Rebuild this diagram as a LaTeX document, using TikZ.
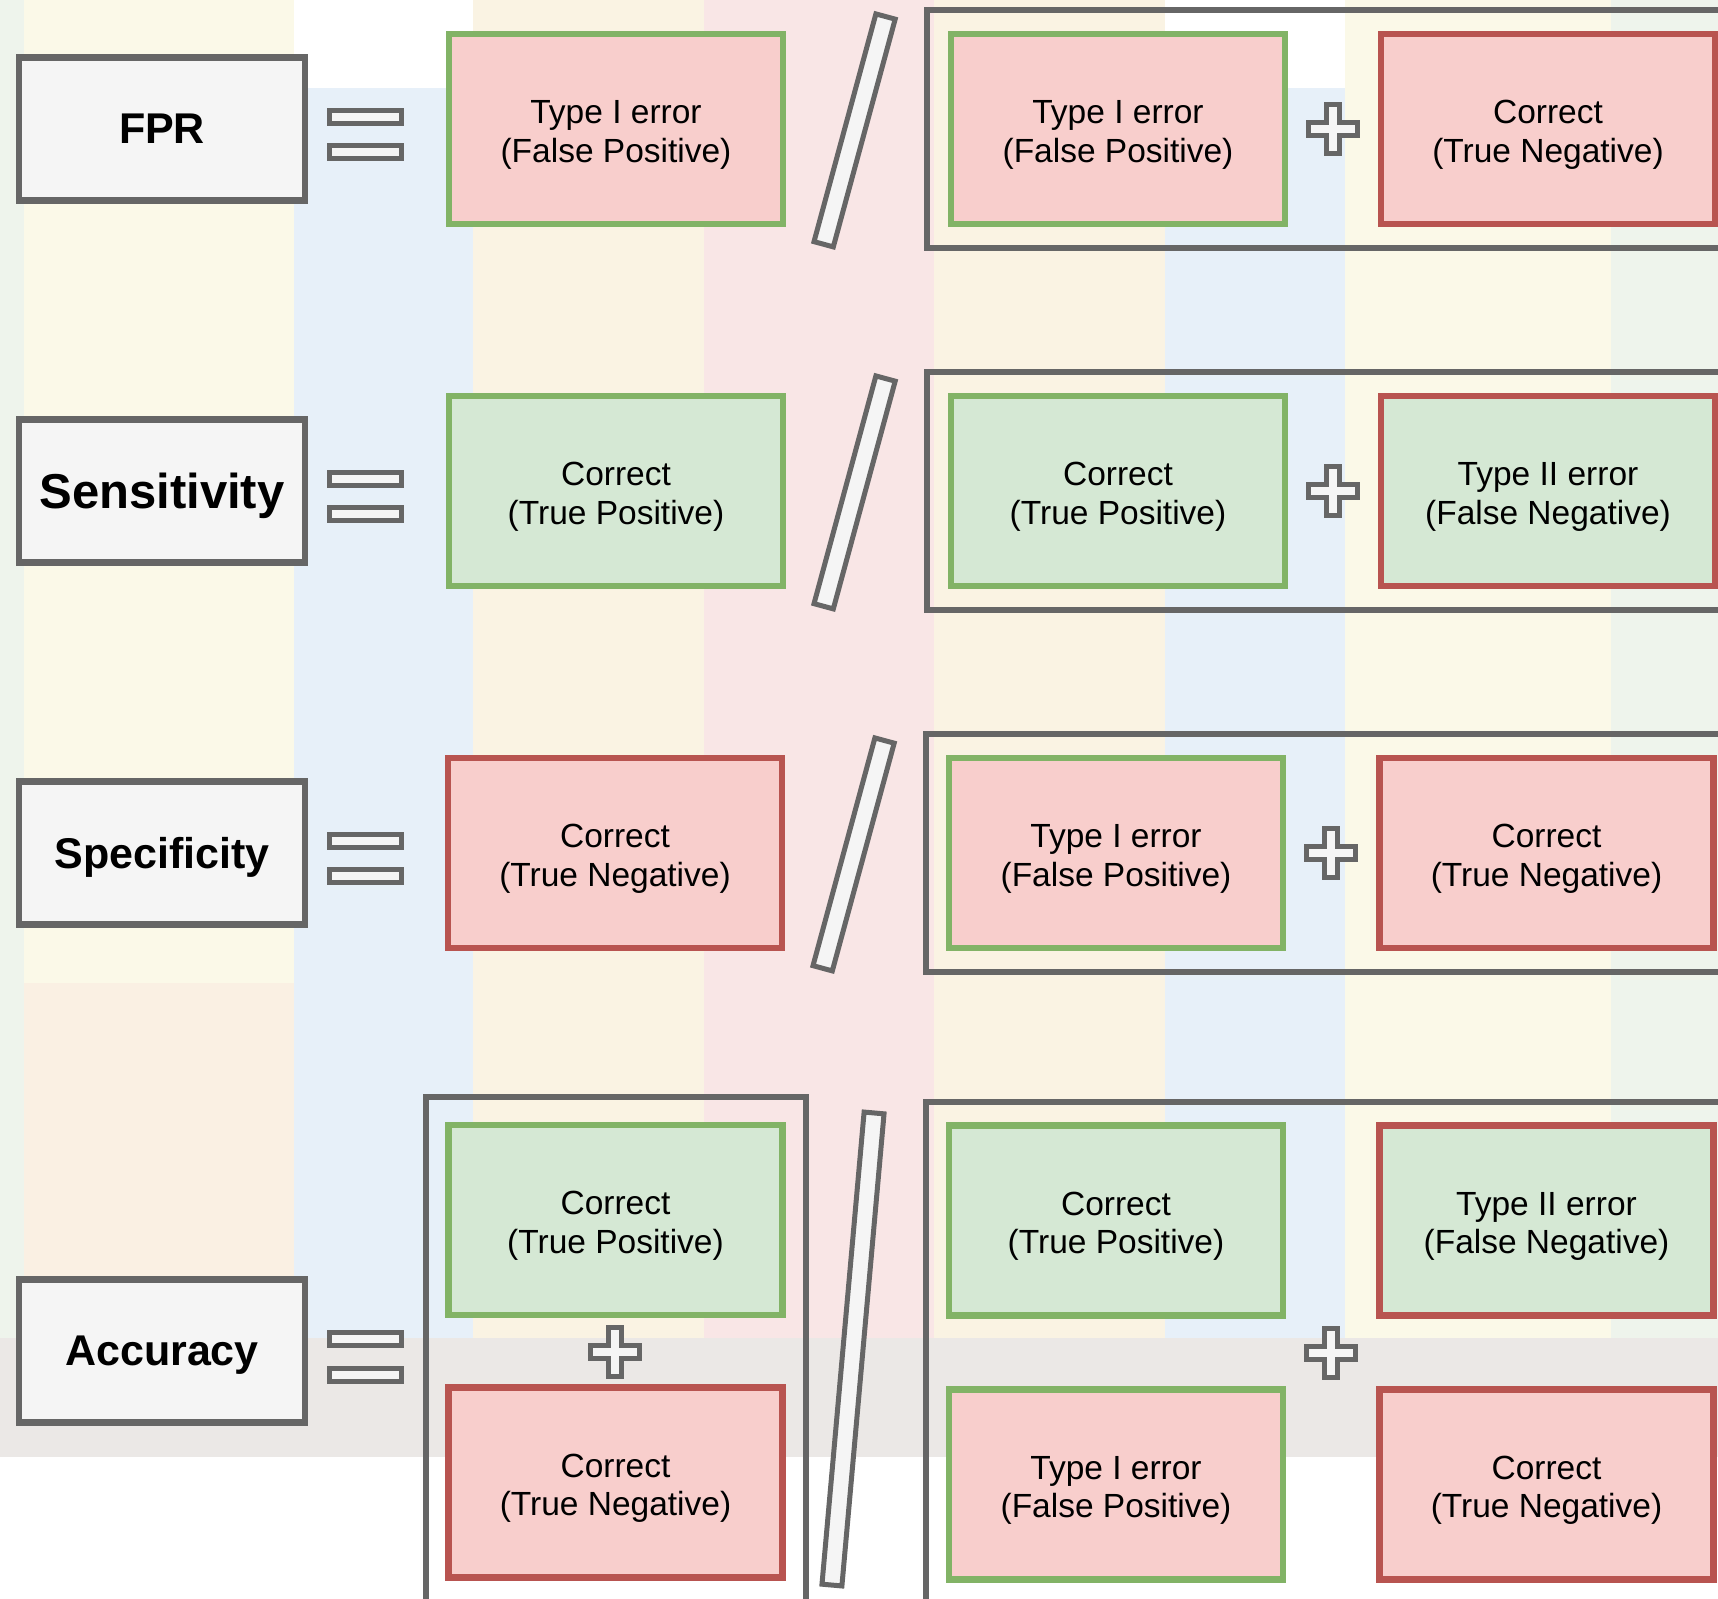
\documentclass[tikz,border=0pt]{standalone}
\usepackage{fontspec}
\setmainfont{Liberation Sans}
\definecolor{grayline}{HTML}{666666}
\definecolor{grayfill}{HTML}{F5F5F5}
\definecolor{greenline}{HTML}{82B366}
\definecolor{greenfill}{HTML}{D5E8D4}
\definecolor{redline}{HTML}{B85450}
\definecolor{redfill}{HTML}{F8CECC}
\definecolor{bggreen}{HTML}{EEF4EC}
\definecolor{bgyellow}{HTML}{FBF9E8}
\definecolor{bgblue}{HTML}{E7F0F9}
\definecolor{bgcream}{HTML}{FAF3E3}
\definecolor{bgpink}{HTML}{F9E6E6}
\definecolor{bgpeach}{HTML}{FAF0E3}
\definecolor{bggray}{HTML}{EBE8E6}
\newcommand{\plussign}[1]{\draw[plusline, shift={#1}] (-24.5,-6.5) -- (-6.5,-6.5) -- (-6.5,-24.5) -- (6.5,-24.5) -- (6.5,-6.5) -- (24.5,-6.5)
    -- (24.5,6.5) -- (6.5,6.5) -- (6.5,24.5) -- (-6.5,24.5) -- (-6.5,6.5) -- (-24.5,6.5) -- cycle;}
\begin{document}
\begin{tikzpicture}[x=1pt,y=-1pt]
    \tikzset{cell/.style={line width=6.5pt, minimum width=334pt, minimum height=190pt, inner sep=0pt, align=center,
            font=\fontsize{33.5}{38.4}\selectfont, text height=73.5pt},
        tp/.style={cell, draw=greenline, fill=greenfill},
        fp/.style={cell, draw=greenline, fill=redfill},
        tn/.style={cell, draw=redline, fill=redfill},
        fn/.style={cell, draw=redline, fill=greenfill},
        lbl/.style={draw=grayline, fill=grayfill, line width=6.5pt, minimum width=286pt, minimum height=143pt, inner sep=0pt,
            text depth=0pt},
        lblfont/.style={font=\bfseries\fontsize{#1}{#1}\selectfont},
        lblfont/.default={43},
        eqbar/.style={draw=grayline, fill=grayfill, line width=5pt, minimum width=72pt, minimum height=13pt, inner sep=0pt},
        slashbar/.style={draw=grayline, fill=grayfill, line width=5pt, minimum width=20pt, inner sep=0pt},
        grp/.style={draw=grayline, line width=6pt},
        plusline/.style={draw=grayline, fill=grayfill, line width=5pt}}
    \useasboundingbox (0,0) rectangle (1718,1598);
    \clip (0,0) rectangle (1718,1598);

    %Hintergrund
    \fill[white] (0,0) rectangle (1718,1598);
    \fill[bggreen] (0,0) rectangle (24,1338);
    \fill[bgyellow] (24,0) rectangle (294,1338);
    \fill[bgblue] (294,88) rectangle (473,1338);
    \fill[bgcream] (473,0) rectangle (704,1338);
    \fill[bgpink] (704,0) rectangle (934,1338);
    \fill[bgcream] (934,0) rectangle (1165,1338);
    \fill[bgblue] (1165,88) rectangle (1345,1338);
    \fill[bgyellow] (1345,0) rectangle (1611,1338);
    \fill[bggreen] (1611,0) rectangle (1718,1338);
    \fill[bgpeach] (24,983) rectangle (294,1338);
    \fill[bggray] (0,1338) rectangle (1718,1457);

    %FPR
    \node[lbl, lblfont] (fpr) at (162,129) {FPR};
    \node[eqbar] (fprEq1) at (365,116.5) {};
    \node[eqbar] (fprEq2) at (365,152) {};
    \node[fp] (fprNum) at (616,129) {Type I error\\(False Positive)};
    \node[slashbar, minimum height=236pt, rotate=-15.2] (fprSl) at (854.6,130.4) {};
    \draw[grp] (927,9.5) rectangle (1760,248);
    \node[fp] (fprDen1) at (1118,129) {Type I error\\(False Positive)};
    \coordinate (fprPlus) at (1333,129);
    \plussign{(fprPlus)}
    \node[tn] (fprDen2) at (1548,129) {Correct\\(True Negative)};

    %Sensitivity
    \node[lbl, lblfont=49] (sens) at (162,491) {Sensitivity};
    \node[eqbar] (sensEq1) at (365,478.5) {};
    \node[eqbar] (sensEq2) at (365,514) {};
    \node[tp] (sensNum) at (616,491) {Correct\\(True Positive)};
    \node[slashbar, minimum height=236pt, rotate=-15.2] (sensSl) at (854.6,492.4) {};
    \draw[grp] (927,371.5) rectangle (1760,610);
    \node[tp] (sensDen1) at (1118,491) {Correct\\(True Positive)};
    \coordinate (sensPlus) at (1333,491);
    \plussign{(sensPlus)}
    \node[fn] (sensDen2) at (1548,491) {Type II error\\(False Negative)};

    %Specificity
    \node[lbl, lblfont] (spec) at (162,853) {Specificity};
    \node[eqbar] (specEq1) at (365,840.5) {};
    \node[eqbar] (specEq2) at (365,876) {};
    \node[tn] (specNum) at (615,853) {Correct\\(True Negative)};
    \node[slashbar, minimum height=236pt, rotate=-15.2] (specSl) at (853.6,854.4) {};
    \draw[grp] (925.5,733.5) rectangle (1760,972);
    \node[fp] (specDen1) at (1116,853) {Type I error\\(False Positive)};
    \coordinate (specPlus) at (1331,853);
    \plussign{(specPlus)}
    \node[tn] (specDen2) at (1546.5,853) {Correct\\(True Negative)};

    %Accuracy
    \node[lbl, lblfont] (acc) at (162,1351) {Accuracy};
    \node[eqbar] (accEq1) at (365,1339) {};
    \node[eqbar] (accEq2) at (365,1374.5) {};
    \draw[grp] (425.5,1640) -- (425.5,1097) -- (805.5,1097) -- (805.5,1640);
    \node[tp] (accNum1) at (615.5,1220) {Correct\\(True Positive)};
    \coordinate (accPlus1) at (615,1352);
    \plussign{(accPlus1)}
    \node[tn] (accNum2) at (615.5,1482.5) {Correct\\(True Negative)};
    \node[slashbar, minimum height=474pt, rotate=-5.1] (accSl) at (853,1349) {};
    \draw[grp] (925.5,1640) -- (925.5,1101.5) -- (1760,1101.5);
    \node[tp] (accDen1) at (1116,1220.5) {Correct\\(True Positive)};
    \node[fn] (accDen2) at (1546.5,1220.5) {Type II error\\(False Negative)};
    \coordinate (accPlus2) at (1331,1353);
    \plussign{(accPlus2)}
    \node[fp] (accDen3) at (1116,1484.5) {Type I error\\(False Positive)};
    \node[tn] (accDen4) at (1546.5,1484.5) {Correct\\(True Negative)};

\end{tikzpicture}
\end{document}
